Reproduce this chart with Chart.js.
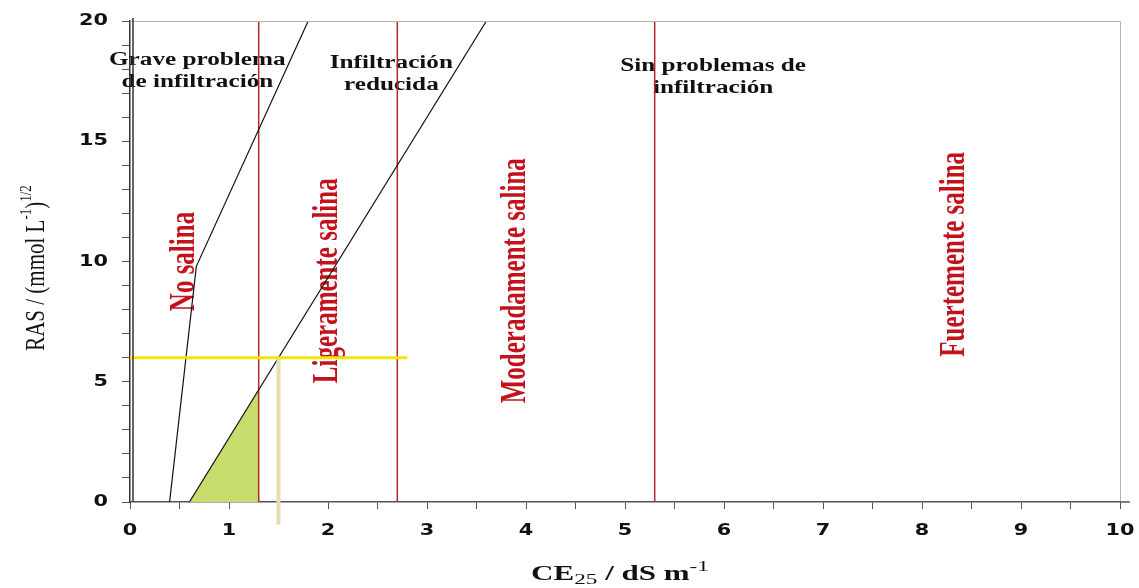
<!DOCTYPE html>
<html>
<head>
<meta charset="utf-8">
<script src="https://cdn.jsdelivr.net/npm/chart.js@4"></script>
<style>
  body { margin: 0; background: #fff; }
  #wrap { width: 1139px; height: 588px; position: relative; }
</style>
</head>
<body>
<div id="wrap"><canvas id="rasChart"></canvas></div>
<script>
// rango de los ejes
const ceRange = [0, 10];
const rasRange = [0, 20];

// limite "grave problema de infiltracion" (tramo con quiebre)
const severeCE = [0.4, 0.67, 1.8];
const severeRAS = [0, 9.8, 20];

// limite "infiltracion reducida"
const reducedCE = [0.6, 3.6];
const reducedRAS = [0, 20];

// zona sombreada bajo el limite
const shadeCE = [0.6, 1.3];
const shadeRAS = [0, 4.67];

// limites de salinidad (CE)
const salinityLimits = [1.3, 2.7, 5.3];
const salinityClasses = ["No salina", "Ligeramente salina", "Moderadamente salina", "Fuertemente salina"];
const infiltrationClasses = [
  ["Grave problema", "de infiltración"],
  ["Infiltración", "reducida"],
  ["Sin problemas de", "infiltración"],
];

// muestra
const sampleCE = 1.5;
const sampleRAS = 6;
const guideEndCE = 2.8;
const guideEndRAS = -0.95;

// donde van los textos (en unidades de datos)
const salinityLabelPos = [[0.56, 10.0], [2.0, 9.2], [3.9, 9.2], [8.33, 10.3]];
const infiltrationLabelPos = [[0.68, 17.9], [2.64, 17.8], [5.89, 17.65]];

const toPoints = (xs, ys) => xs.map((x, i) => ({ x: x, y: ys[i] }));

const datasets = [
  {
    data: toPoints(shadeCE, shadeRAS),
    fill: "origin",
    backgroundColor: "#c6dc6c",
    borderWidth: 0,
    order: 10,
  },
  ...salinityLimits.map((ce) => ({
    data: [{ x: ce, y: rasRange[0] }, { x: ce, y: rasRange[1] }],
    borderColor: "#b8262c",
    borderWidth: 1.5,
    order: 5,
  })),
  {
    data: toPoints(severeCE, severeRAS),
    borderColor: "#111",
    borderWidth: 1.2,
    order: 3,
  },
  {
    data: toPoints(reducedCE, reducedRAS),
    borderColor: "#111",
    borderWidth: 1.2,
    order: 3,
  },
  {
    data: [{ x: sampleCE, y: sampleRAS }, { x: sampleCE, y: guideEndRAS }],
    borderColor: "#e8ddb5",
    borderWidth: 4,
    clip: false,
    order: 2,
  },
  {
    data: [{ x: ceRange[0], y: sampleRAS }, { x: guideEndCE, y: sampleRAS }],
    borderColor: "#f4e40c",
    borderWidth: 3,
    order: 1,
  },
];

// texto con sub/superindices, opcionalmente rotado y estirado
function drawRich(ctx, segs, cx, cy, angle, sx, sy, font, small, align) {
  ctx.save();
  ctx.translate(cx, cy);
  ctx.rotate(angle);
  ctx.scale(sx, sy);
  let total = 0;
  segs.forEach((s) => {
    ctx.font = s.k === "n" ? font : small;
    total += ctx.measureText(s.t).width;
  });
  let x = align === "right" ? -total : -total / 2;
  ctx.textBaseline = "middle";
  ctx.textAlign = "left";
  segs.forEach((s) => {
    ctx.font = s.k === "n" ? font : small;
    const dy = s.k === "sup" ? -8 : s.k === "sub" ? 5 : 0;
    ctx.fillText(s.t, x, dy);
    x += ctx.measureText(s.t).width;
  });
  ctx.restore();
}

const tickFont = "bold 16px 'DejaVu Sans'";

const labelsPlugin = {
  id: "labels",
  beforeDatasetsDraw(chart) {
    const ctx = chart.ctx;
    const xs = chart.scales.x;
    const ys = chart.scales.y;

    // clases de salinidad, texto vertical rojo
    ctx.fillStyle = "#c3121b";
    salinityClasses.forEach((t, i) => {
      const px = xs.getPixelForValue(salinityLabelPos[i][0]);
      const py = ys.getPixelForValue(salinityLabelPos[i][1]);
      drawRich(ctx, [{ t: t, k: "n" }], px, py, -Math.PI / 2, 1, 1.4,
        "bold 25px 'Liberation Serif'", "bold 25px 'Liberation Serif'");
    });

    // clases de infiltracion
    ctx.fillStyle = "#111";
    infiltrationClasses.forEach((lines, i) => {
      const px = xs.getPixelForValue(infiltrationLabelPos[i][0]);
      const py = ys.getPixelForValue(infiltrationLabelPos[i][1]);
      lines.forEach((t, j) => {
        drawRich(ctx, [{ t: t, k: "n" }], px, py + (j - 0.5) * 22, 0, 1.4, 1,
          "bold 18px 'Liberation Serif'", "bold 18px 'Liberation Serif'");
      });
    });
  },
  afterDraw(chart) {
    const ctx = chart.ctx;
    const a = chart.chartArea;
    const xs = chart.scales.x;
    const ys = chart.scales.y;

    // marco gris arriba y a la derecha, doble linea del eje y
    ctx.save();
    ctx.strokeStyle = "#b5b5b5";
    ctx.lineWidth = 1;
    ctx.beginPath();
    ctx.moveTo(a.left, a.top + 0.5);
    ctx.lineTo(a.right, a.top + 0.5);
    ctx.moveTo(a.right + 0.5, a.top);
    ctx.lineTo(a.right + 0.5, a.bottom);
    ctx.stroke();
    ctx.strokeStyle = "#333";
    ctx.lineWidth = 1.5;
    ctx.beginPath();
    ctx.moveTo(a.left + 3, a.top - 3);
    ctx.lineTo(a.left + 3, a.bottom);
    ctx.stroke();
    ctx.strokeStyle = "#555";
    ctx.beginPath();
    ctx.moveTo(a.right, a.bottom);
    ctx.lineTo(a.right + 10, a.bottom);
    ctx.stroke();
    ctx.restore();

    // etiquetas de las marcas (letra ancha, como en el original)
    ctx.fillStyle = "#111";
    xs.ticks.forEach((t) => {
      if (!Number.isInteger(t.value)) return;
      drawRich(ctx, [{ t: String(t.value), k: "n" }], xs.getPixelForValue(t.value), 531,
        0, 1.3, 1, tickFont, tickFont);
    });
    ys.ticks.forEach((t) => {
      if (t.value % 5 !== 0) return;
      drawRich(ctx, [{ t: String(t.value), k: "n" }], 108, ys.getPixelForValue(t.value),
        0, 1.3, 1, tickFont, tickFont, "right");
    });

    // titulos de los ejes
    drawRich(ctx,
      [{ t: "CE", k: "n" }, { t: "25", k: "sub" }, { t: " / dS m", k: "n" }, { t: "-1", k: "sup" }],
      620, 575, 0, 1.55, 1,
      "bold 20px 'Liberation Serif'", "15px 'Liberation Serif'");
    drawRich(ctx,
      [{ t: "RAS / (mmol L", k: "n" }, { t: "-1", k: "sup" }, { t: ")", k: "n" }, { t: "1/2", k: "sup" }],
      37, 268, -Math.PI / 2, 1, 1.35,
      "21px 'Liberation Serif'", "13px 'Liberation Serif'");
  },
};

new Chart(document.getElementById("rasChart"), {
  type: "scatter",
  data: { datasets: datasets },
  options: {
    responsive: true,
    maintainAspectRatio: false,
    animation: false,
    showLine: true,
    elements: { point: { radius: 0 }, line: { tension: 0 } },
    layout: { padding: { top: 21, right: 19, left: 0, bottom: 0 } },
    plugins: {
      legend: { display: false },
      tooltip: { enabled: false },
    },
    scales: {
      x: {
        type: "linear",
        min: ceRange[0],
        max: ceRange[1],
        afterFit: (scale) => { scale.height = 86; },
        ticks: { stepSize: 0.5, autoSkip: false, maxRotation: 0, display: false },
        grid: { drawOnChartArea: false, tickLength: 7, color: "#555" },
        border: { color: "#555", width: 1.5 },
      },
      y: {
        min: rasRange[0],
        max: rasRange[1],
        afterFit: (scale) => { scale.width = 130; },
        ticks: { stepSize: 1, autoSkip: false, display: false },
        grid: { drawOnChartArea: false, tickLength: 8, color: "#555" },
        border: { color: "#333", width: 1.5 },
      },
    },
  },
  plugins: [labelsPlugin],
});
</script>
</body>
</html>
